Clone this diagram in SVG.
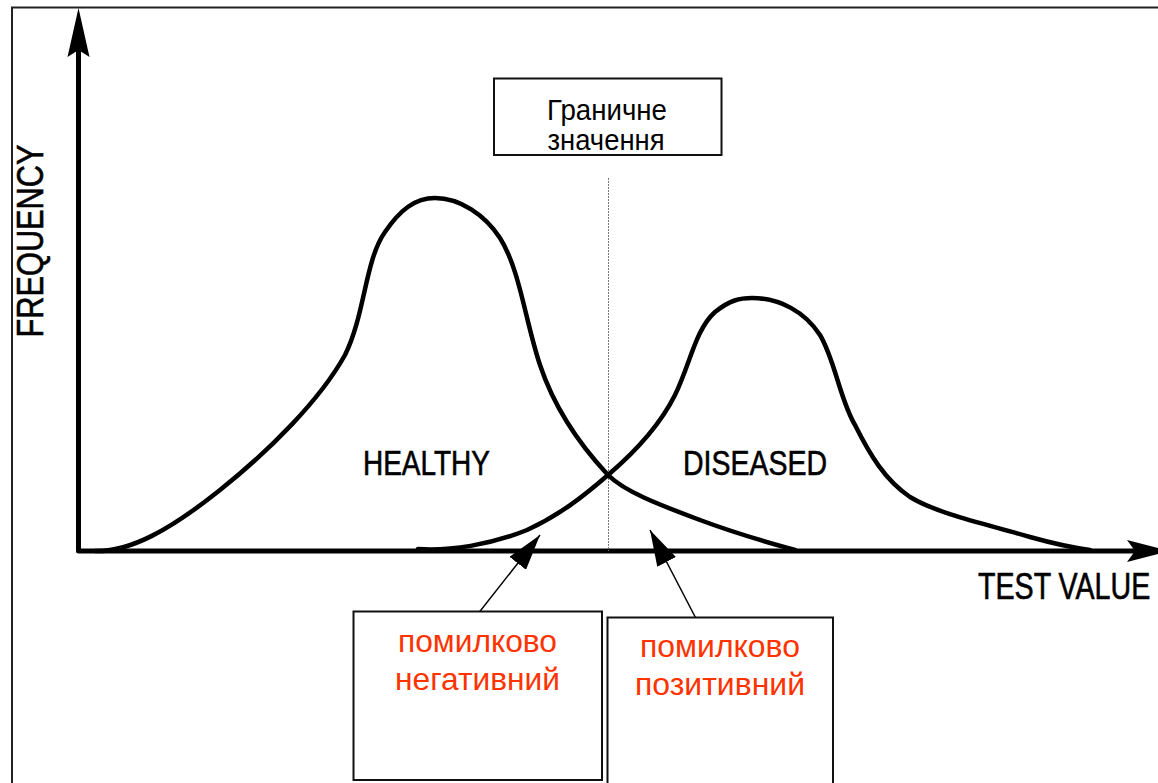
<svg xmlns="http://www.w3.org/2000/svg" width="1158" height="783" viewBox="0 0 1158 783">
<style>
.frame{stroke:#222;stroke-width:2;fill:none}
.axis{stroke:#000;stroke-width:5;fill:none;stroke-linejoin:round}
.curve{stroke:#000;stroke-width:4.5;fill:none;stroke-linecap:round}
.box{fill:#fff;stroke:#111;stroke-width:2}
.lbl{font-family:"Liberation Sans",Arial,sans-serif;fill:#000}
.cap{stroke:#000;stroke-width:0.6}
.red{font-family:"Liberation Sans",Arial,sans-serif;fill:#ff3300;font-size:32px;text-anchor:middle}
.conn{stroke:#000;stroke-width:1.5;fill:none}
</style>
<defs>
<marker id="ah" markerUnits="userSpaceOnUse" markerWidth="36" markerHeight="21" viewBox="0 0 36 21" refX="36" refY="10.5" orient="auto">
<path d="M0,0 L36,10.5 L0,21 Z" fill="#000"/>
</marker>
</defs>
<rect width="1158" height="783" fill="#fff"/>
<g id="frame">
<path class="frame" d="M12,783 L12,7.5 L1158,7.5"/>
</g>
<g id="axes">
<path class="axis" d="M78.5,50 L78.5,551 L1140,551"/>
<path d="M78.5,8 L89.5,57 L78.5,50 L67.5,57 Z" fill="#000"/>
<path d="M1170,551 L1127,540 L1135,551 L1127,562 Z" fill="#000"/>
<text class="lbl cap" font-size="37" text-anchor="middle" textLength="193" lengthAdjust="spacingAndGlyphs" transform="translate(43,241) rotate(-90)">FREQUENCY</text>
<text class="lbl cap" font-size="36" transform="translate(978,599) scale(0.795,1)">TEST VALUE</text>
</g>
<g id="threshold">
<line x1="608.5" y1="178" x2="608.5" y2="551" stroke="#777" stroke-width="1" stroke-dasharray="2,1"/>
<rect class="box" x="494" y="78.5" width="227.5" height="76.5" stroke-width="1.5"/>
<text class="lbl" x="607" y="120" font-size="30" text-anchor="middle" textLength="120" lengthAdjust="spacingAndGlyphs">Граничне</text>
<text class="lbl" x="606" y="150" font-size="30" text-anchor="middle" textLength="117" lengthAdjust="spacingAndGlyphs">значення</text>
</g>
<g id="healthy">
<path class="curve" d="M95,551 C130,552 170,530 220,490 C270,450 320,400 345,355 C365,315 365,260 385,232 C400,210 415,198 435,198 C460,198 485,215 500,238 C520,270 525,320 540,365 C555,410 580,445 608,475 C625,492 660,505 700,520 C740,535 770,543 795,550"/>
<text class="lbl cap" x="363" y="475" font-size="35" textLength="127" lengthAdjust="spacingAndGlyphs">HEALTHY</text>
</g>
<g id="diseased">
<path class="curve" d="M418,549 C450,551 490,545 527,530 C560,515 585,495 608,475 C635,452 660,425 675,395 C690,365 695,330 715,312 C730,300 740,298 752,298 C780,298 805,312 820,335 C835,360 840,400 855,425 C870,455 885,480 910,497 C940,515 990,525 1030,537 C1055,544 1075,548 1090,550"/>
<text class="lbl cap" x="683" y="475" font-size="35" textLength="144" lengthAdjust="spacingAndGlyphs">DISEASED</text>
</g>
<g id="connectors">
<line class="conn" x1="470" y1="624" x2="540" y2="535" marker-end="url(#ah)"/>
<line class="conn" x1="703" y1="632" x2="650" y2="530" marker-end="url(#ah)"/>
</g>
<g id="false-negative">
<rect class="box" x="353.5" y="611.5" width="248.5" height="168.5"/>
<text class="red" x="477.5" y="652" textLength="159" lengthAdjust="spacingAndGlyphs">помилково</text>
<text class="red" x="477.5" y="690" textLength="165" lengthAdjust="spacingAndGlyphs">негативний</text>
</g>
<g id="false-positive">
<rect class="box" x="607.5" y="617.5" width="225.5" height="175"/>
<text class="red" x="720" y="657" textLength="160" lengthAdjust="spacingAndGlyphs">помилково</text>
<text class="red" x="720" y="695" textLength="170" lengthAdjust="spacingAndGlyphs">позитивний</text>
</g>
</svg>
